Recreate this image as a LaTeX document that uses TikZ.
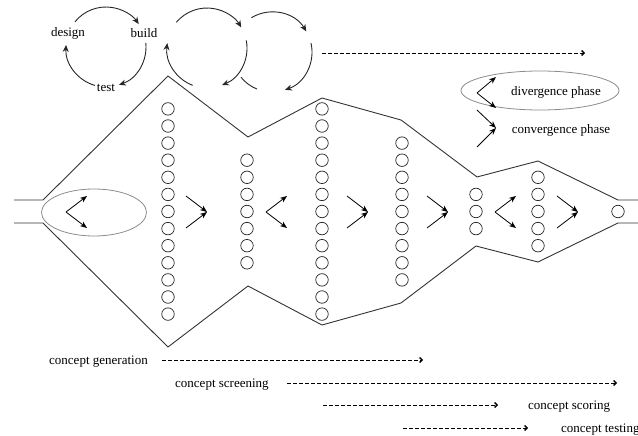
\documentclass[tikz,border=0pt]{standalone}
\usepackage{fontspec}
\setmainfont{Liberation Serif}
\usetikzlibrary{arrows.meta}
\begin{document}
\begin{tikzpicture}[x=1pt,y=1pt,
  lbl/.style={font=\fontsize{13}{15}\selectfont, inner sep=0pt},
  cyc/.style={line width=0.9pt, draw=black!85, -{Stealth[length=7pt,width=6pt]}},
  phase/.style={line width=0.8pt, -{Stealth[length=7pt,width=5.5pt]}},
  flow/.style={line width=0.8pt, dash pattern=on 3.5pt off 2.5pt,
    -{Straight Barb[length=2.5pt,width=5pt,line width=1.3pt]}},
  funnel/.style={line width=0.9pt, draw=black!80, line join=miter},
  idea/.style={circle, draw=black!85, line width=0.7pt, minimum size=12.5pt, inner sep=0pt},
  halo/.style={draw=black!45, line width=0.8pt},
  diverge/.pic={
    \coordinate (-v) at (0,0);
    \coordinate (-u) at (21,16);
    \coordinate (-d) at (21,-16);
    \draw[phase] (-v) -- (-u);
    \draw[phase] (-v) -- (-d);
  },
  converge/.pic={
    \coordinate (-v) at (0,0);
    \coordinate (-u) at (-21,16);
    \coordinate (-d) at (-21,-16);
    \draw[phase] (-u) -- (-v);
    \draw[phase] (-d) -- (-v);
  },
]
\useasboundingbox (0,0) rectangle (638,-436);

% design-build-test cycles
\coordinate (c1) at (106,-47);
\coordinate (c2) at (207,-48);
\coordinate (c3) at (272,-52);
\node[lbl] (design) at (68,-33) {design};
\node[lbl] (build) at (144,-33) {build};
\node[lbl] (test) at (106,-88) {test};
\draw[cyc] ([shift={(141:40)}]c1) arc[start angle=141, end angle=35, radius=40];
\draw[cyc] ([shift={(6:40)}]c1) arc[start angle=6, end angle=-71, radius=40];
\draw[cyc] ([shift={(-106:40)}]c1) arc[start angle=-106, end angle=-183, radius=40];

\draw[cyc] ([shift={(140:40)}]c2) arc[start angle=140, end angle=31, radius=40];
\draw[cyc] ([shift={(11:40)}]c2) arc[start angle=11, end angle=-68, radius=40];
\draw[cyc] ([shift={(-111:40)}]c2) arc[start angle=-111, end angle=-187, radius=40];

\draw[cyc] ([shift={(121:40)}]c3) arc[start angle=121, end angle=31, radius=40];
\draw[cyc] ([shift={(13:40)}]c3) arc[start angle=13, end angle=-71, radius=40];
\draw[line width=0.9pt, draw=black!85] ([shift={(-141:40)}]c3) arc[start angle=-141, end angle=-112, radius=40];

% iteration continues
\coordinate (itA) at (322,-53);
\coordinate (itB) at (585,-53);
\draw[flow] (itA) -- (itB);

% funnel outline
\draw[funnel] (14,-200) -- (43,-200) -- (168,-76) -- (248,-137) -- (322,-98) -- (401,-120)
  -- (477,-177) -- (538,-161) -- (618,-200) -- (638,-200);
\draw[funnel] (14,-223) -- (43,-223) -- (168,-347) -- (248,-286) -- (322,-325) -- (401,-303)
  -- (476,-246) -- (538,-262) -- (618,-223) -- (638,-223);

% concept columns
\foreach \col/\x/\n in {a/168/13, b/247/7, c/322/13, d/402/9, e/476/3, f/538/5, g/618/1} {
  \foreach \i in {1,...,\n} {
    \node[idea] (\col\i) at (\x, {-211.5 + 17.1*(\i - (\n+1)/2)}) {};
  }
}

% phases inside the funnel
\draw[halo] (94,-212.5) ellipse[x radius=52.5, y radius=23.5];
\pic (p0) at (66,-212) {diverge};
\pic (p1) at (207,-212) {converge};
\pic (p2) at (266,-212) {diverge};
\pic (p3) at (368,-212) {converge};
\pic (p4) at (448,-212) {converge};
\pic (p5) at (495,-212) {diverge};
\pic (p6) at (578,-212) {converge};

% legend
\draw[halo] (540,-90.5) ellipse[x radius=79, y radius=19.5];
\coordinate (lv) at (477,-93);
\coordinate (lu) at (496,-77);
\coordinate (ld) at (496,-108);
\draw[phase] (lv) -- (lu);
\draw[phase] (lv) -- (ld);
\node[lbl] (divtxt) at (556,-92) {divergence phase};
\coordinate (mv) at (496,-128);
\coordinate (mu) at (477,-110);
\coordinate (md) at (477,-147);
\draw[phase] (mu) -- (mv);
\draw[phase] (md) -- (mv);
\node[lbl] (contxt) at (561,-130) {convergence phase};

% concept stages
\node[lbl, anchor=west] (gen) at (49,-362) {concept generation};
\coordinate (genA) at (162,-360);
\coordinate (genB) at (423,-360);
\draw[flow] (genA) -- (genB);

\node[lbl, anchor=west] (scr) at (175,-385) {concept screening};
\coordinate (scrA) at (287,-383);
\coordinate (scrB) at (617,-383);
\draw[flow] (scrA) -- (scrB);

\coordinate (scoA) at (323,-405);
\coordinate (scoB) at (498,-405);
\draw[flow] (scoA) -- (scoB);
\node[lbl, anchor=west] (sco) at (528,-407) {concept scoring};

\coordinate (tstA) at (403,-428);
\coordinate (tstB) at (528,-428);
\draw[flow] (tstA) -- (tstB);
\node[lbl, anchor=west] (tst) at (561,-430) {concept testing};
\end{tikzpicture}
\end{document}
